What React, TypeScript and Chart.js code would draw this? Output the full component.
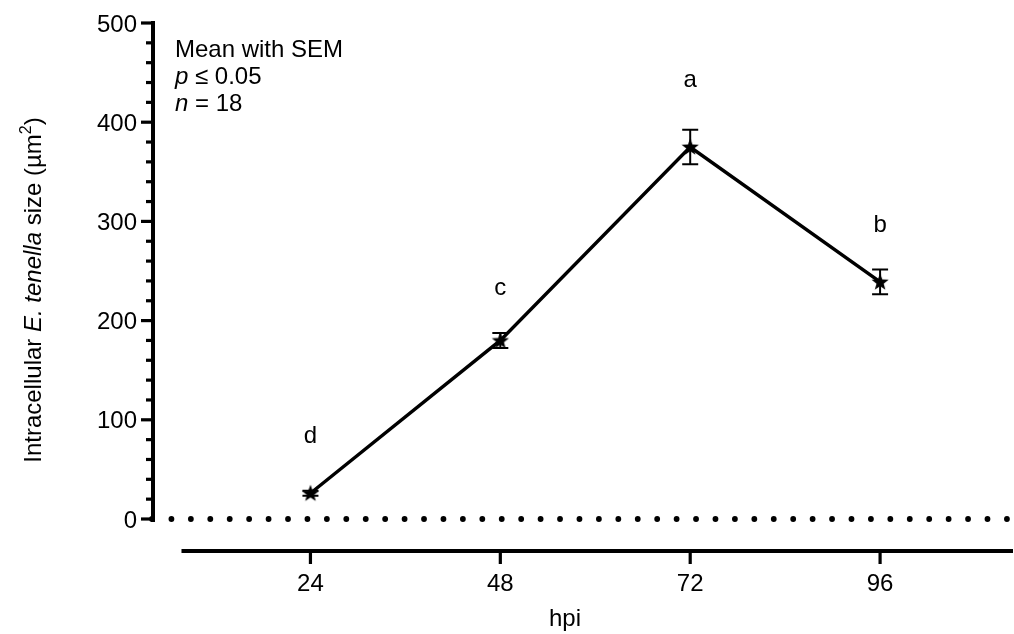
import React, { useEffect, useRef } from 'react';
import { Chart, registerables } from 'chart.js';

Chart.register(...registerables);

// ---- data ----
const hpi = [24, 48, 72, 96];
const meanSize = [26, 180, 375, 239];
const semSize = [2.5, 7.5, 17.5, 12.5];
const sigLetters = ['d', 'c', 'a', 'b'];
const sigLetterValue = [77, 226, 435, 289];
const yMajorTicks = [0, 100, 200, 300, 400, 500];
const yMinorTicks = [20, 40, 60, 80, 120, 140, 160, 180, 220, 240, 260, 280, 320, 340, 360, 380, 420, 440, 460, 480];
const xTicks = [24, 48, 72, 96];
const xTickLabels = ['24', '48', '72', '96'];

const FONT = '"Liberation Sans", Arial, "Helvetica", sans-serif';
const FS = 24;

function makeStar(): HTMLCanvasElement {
  const c = document.createElement('canvas');
  c.width = 20;
  c.height = 20;
  const g = c.getContext('2d')!;
  g.fillStyle = '#000';
  g.beginPath();
  for (let i = 0; i < 10; i++) {
    const r = i % 2 === 0 ? 9 : 3.8;
    const a = -Math.PI / 2 + (i * Math.PI) / 5;
    const px = 10 + r * Math.cos(a);
    const py = 10.5 + r * Math.sin(a);
    if (i === 0) g.moveTo(px, py);
    else g.lineTo(px, py);
  }
  g.closePath();
  g.fill();
  return c;
}

function drawSegments(ctx: CanvasRenderingContext2D, segs: { t: string; italic?: boolean; sup?: boolean }[], x: number, y: number, align: 'left' | 'center') {
  const fontFor = (s: any) => `${s.italic ? 'italic ' : ''}${s.sup ? Math.round(FS * 0.65) : FS}px ${FONT}`;
  let total = 0;
  const widths = segs.map((s) => {
    ctx.font = fontFor(s);
    const w = ctx.measureText(s.t).width;
    total += w;
    return w;
  });
  let cx = align === 'center' ? x - total / 2 : x;
  ctx.textAlign = 'left';
  ctx.textBaseline = 'alphabetic';
  segs.forEach((s, i) => {
    ctx.font = fontFor(s);
    ctx.fillText(s.t, cx, s.sup ? y - FS * 0.42 : y);
    cx += widths[i];
  });
}

const decor = {
  id: 'decor',
  beforeDatasetsDraw(chart: any) {
    const { ctx, chartArea, scales } = chart;
    const x = scales.x;
    const y = scales.y;
    ctx.save();
    // dotted zero line
    const y0 = y.getPixelForValue(0);
    ctx.fillStyle = '#000';
    for (let px = chartArea.left - 1; px <= chartArea.right - 5; px += 19.43) {
      ctx.beginPath();
      ctx.arc(px, y0, 2.9, 0, Math.PI * 2);
      ctx.fill();
    }
    // error bars
    ctx.strokeStyle = '#000';
    ctx.lineWidth = 2;
    hpi.forEach((h, i) => {
      const px = x.getPixelForValue(h);
      const top = y.getPixelForValue(meanSize[i] + semSize[i]);
      const bot = y.getPixelForValue(meanSize[i] - semSize[i]);
      ctx.beginPath();
      ctx.moveTo(px, top);
      ctx.lineTo(px, bot);
      ctx.moveTo(px - 8, top);
      ctx.lineTo(px + 8, top);
      ctx.moveTo(px - 8, bot);
      ctx.lineTo(px + 8, bot);
      ctx.stroke();
    });
    ctx.restore();
  },
  afterDraw(chart: any) {
    const { ctx, chartArea, scales } = chart;
    const x = scales.x;
    const y = scales.y;
    ctx.save();
    ctx.fillStyle = '#000';
    ctx.strokeStyle = '#000';
    const left = chartArea.left;
    // y axis
    ctx.lineWidth = 4;
    ctx.beginPath();
    ctx.moveTo(left, y.getPixelForValue(500) - 2);
    ctx.lineTo(left, y.getPixelForValue(0) + 3);
    ctx.stroke();
    ctx.lineWidth = 3.2;
    yMajorTicks.forEach((v) => {
      const py = y.getPixelForValue(v);
      ctx.beginPath();
      ctx.moveTo(left - 12, py);
      ctx.lineTo(left, py);
      ctx.stroke();
    });
    yMinorTicks.forEach((v) => {
      const py = y.getPixelForValue(v);
      ctx.beginPath();
      ctx.moveTo(left - 7, py);
      ctx.lineTo(left, py);
      ctx.stroke();
    });
    ctx.font = `${FS}px ${FONT}`;
    ctx.textAlign = 'right';
    ctx.textBaseline = 'alphabetic';
    yMajorTicks.forEach((v) => {
      ctx.fillText(String(v), left - 16, y.getPixelForValue(v) + 8.5);
    });
    // x axis (offset)
    const yAx = chartArea.bottom + 32;
    ctx.lineWidth = 4;
    ctx.beginPath();
    ctx.moveTo(x.getPixelForValue(7.7), yAx);
    ctx.lineTo(chartArea.right, yAx);
    ctx.stroke();
    ctx.lineWidth = 3.2;
    ctx.textAlign = 'center';
    xTicks.forEach((v, i) => {
      const px = x.getPixelForValue(v);
      ctx.beginPath();
      ctx.moveTo(px, yAx);
      ctx.lineTo(px, yAx + 13);
      ctx.stroke();
      ctx.fillText(xTickLabels[i], px, yAx + 40);
    });
    // x title
    ctx.fillText('hpi', 565, yAx + 75);
    // significance letters
    hpi.forEach((h, i) => {
      ctx.fillText(sigLetters[i], x.getPixelForValue(h), y.getPixelForValue(sigLetterValue[i]));
    });
    // annotation
    const ax = left + 22;
    drawSegments(ctx, [{ t: 'Mean with SEM' }], ax, 56.7, 'left');
    drawSegments(ctx, [{ t: 'p', italic: true }, { t: ' ≤ 0.05' }], ax, 84, 'left');
    drawSegments(ctx, [{ t: 'n', italic: true }, { t: ' = 18' }], ax, 110.7, 'left');
    // y title
    ctx.translate(41, 290);
    ctx.rotate(-Math.PI / 2);
    drawSegments(
      ctx,
      [
        { t: 'Intracellular ' },
        { t: 'E. tenella', italic: true },
        { t: ' size (µm' },
        { t: '2', sup: true },
        { t: ')' },
      ],
      0,
      0,
      'center'
    );
    ctx.restore();
  },
};

export default function App() {
  const ref = useRef<HTMLCanvasElement>(null);
  useEffect(() => {
    document.body.style.margin = '0';
    const star = makeStar();
    const chart = new Chart(ref.current!, {
      type: 'line',
      data: {
        datasets: [
          {
            data: hpi.map((h, i) => ({ x: h, y: meanSize[i] })),
            borderColor: '#000',
            backgroundColor: '#000',
            borderWidth: 3.4,
            tension: 0,
            pointStyle: star as any,
            pointRadius: 10,
            clip: false as any,
          },
        ],
      },
      options: {
        responsive: false,
        animation: false,
        layout: { autoPadding: false, padding: { left: 153, right: 1, top: 23, bottom: 115 } },
        plugins: { legend: { display: false }, tooltip: { enabled: false } },
        scales: {
          x: { type: 'linear', min: 4.1, max: 112.8, display: false },
          y: { min: 0, max: 500, display: false },
        },
      },
      plugins: [decor],
    });
    return () => chart.destroy();
  }, []);
  return (
    <div style={{ position: 'absolute', left: 0, top: 0, width: 1014, height: 634, background: '#fff' }}>
      <canvas ref={ref} width={1014} height={634} />
    </div>
  );
}
